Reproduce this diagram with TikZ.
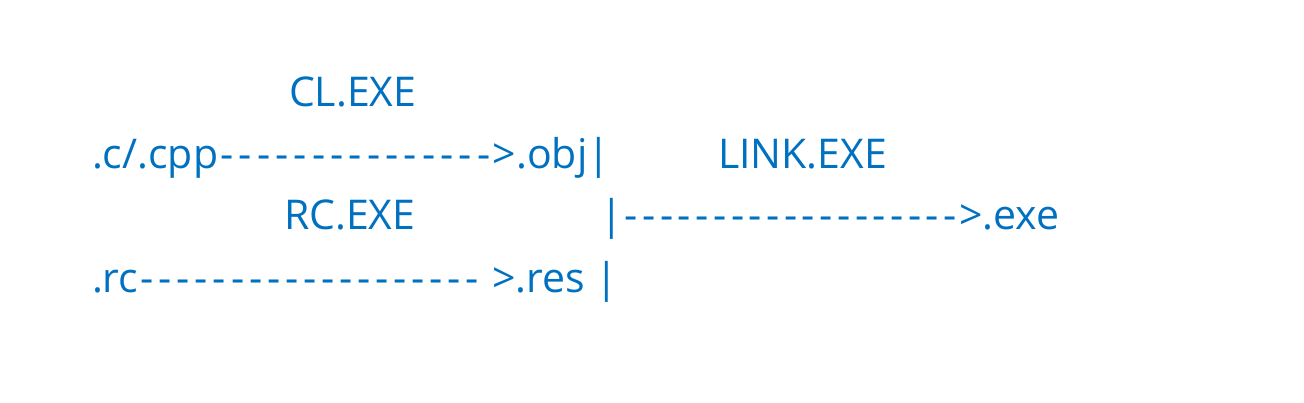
\documentclass[tikz,border=0pt]{standalone}
\usepackage{fontspec}
\setmainfont{Open Sans}
\definecolor{txtblue}{RGB}{0,112,192}
\newlength\dashw
\setlength\dashw{17.7pt}
\newcommand\dsh{\makebox[\dashw]{-}}
\tikzset{lbl/.style={anchor=base west, inner sep=0pt, outer sep=0pt, text=txtblue, font=\fontsize{41}{49}\selectfont}}
\begin{document}
\begin{tikzpicture}[x=1pt,y=1pt]
\useasboundingbox (0,0) rectangle (1304,-402);
\node[lbl] (cl) at (289,-106) {CL.EXE};
\node[lbl] (src) at (92,-168) {\setlength\dashw{18.3pt}.c/.cpp\dsh\dsh\dsh\dsh\dsh\dsh\dsh\dsh\dsh\dsh\dsh\dsh\dsh\dsh\dsh>.obj|};
\node[lbl] (link) at (718,-168) {LINK.EXE};
\node[lbl] (rc) at (284,-229) {RC.EXE};
\node[lbl] (exe) at (600,-229) {\setlength\dashw{17.7pt}|\dsh\dsh\dsh\dsh\dsh\dsh\dsh\dsh\dsh\dsh\dsh\dsh\dsh\dsh\dsh\dsh\dsh\dsh\dsh>.exe};
\node[lbl] (rcl) at (92,-292) {\setlength\dashw{18.05pt}.rc\dsh\dsh\dsh\dsh\dsh\dsh\dsh\dsh\dsh\dsh\dsh\dsh\dsh\dsh\dsh\dsh\dsh\dsh\dsh\ >.res |};
\end{tikzpicture}
\end{document}
